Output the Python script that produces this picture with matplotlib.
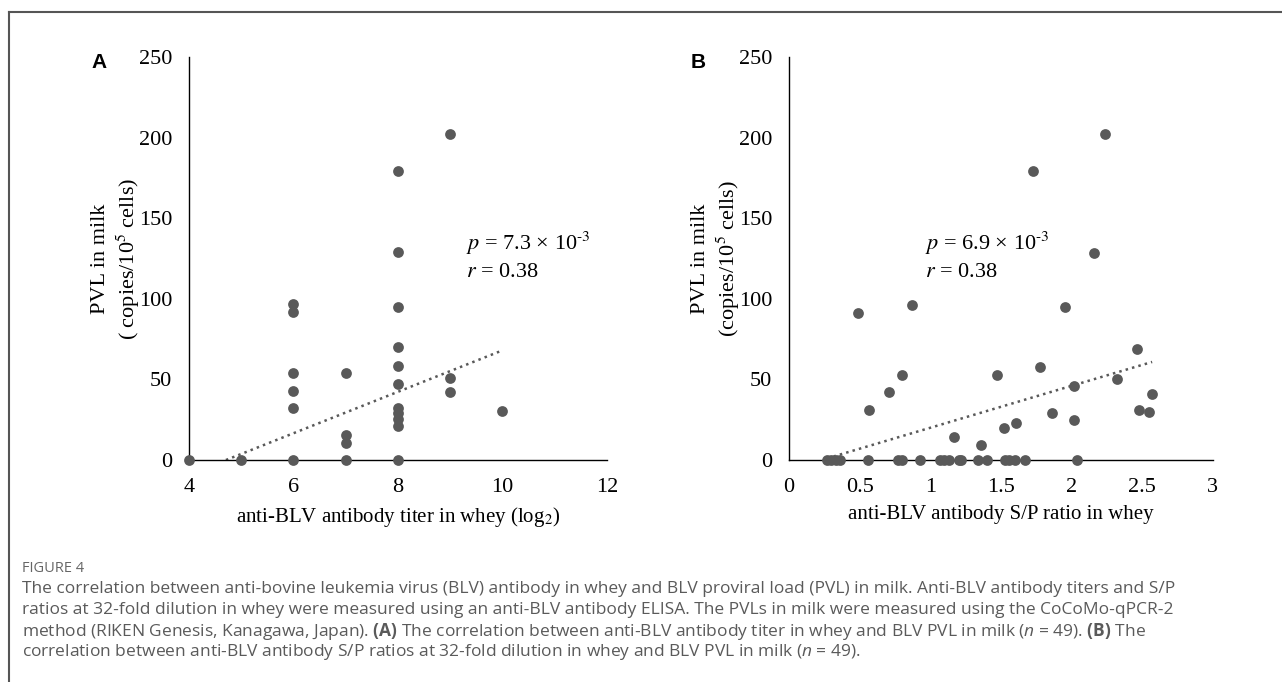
import matplotlib
matplotlib.use("Agg")
import matplotlib.pyplot as plt
from matplotlib.lines import Line2D
import numpy as np

plt.rcParams['font.family'] = ['Liberation Serif', 'DejaVu Serif']
plt.rcParams['mathtext.fontset'] = 'custom'
plt.rcParams['mathtext.rm'] = 'Open Sans'
plt.rcParams['mathtext.it'] = 'Open Sans:italic'
plt.rcParams['mathtext.bf'] = 'Open Sans:bold'

# Panel A: антитела (log2 титр) vs PVL
titer_a = [4, 5, 6, 6, 6, 6, 6, 6, 7, 7, 7, 7, 8, 8, 8, 8, 8, 8, 8, 8, 8, 8, 8, 9, 9, 9, 10]
pvl_a = [0, 0, 97, 92, 54, 43, 32, 0, 54, 15.5, 10.5, 0, 179, 129, 95, 70, 58, 47, 32, 29,
         25.5, 21, 0, 202, 51, 42, 30.5]
trend_a = (12.85, -60.5)  # наклон, сдвиг

# Panel B: S/P ratio vs PVL
sp_b = [0.27, 0.30, 0.33, 0.36, 0.56, 0.77, 0.80, 0.93, 1.07, 1.10, 1.13, 1.20, 1.22, 1.34,
        1.40, 1.53, 1.56, 1.60, 1.67, 2.04,
        0.49, 0.87, 1.73, 2.24, 2.16, 1.95, 0.57, 0.71, 0.80, 1.47, 1.78, 2.02, 2.32, 2.46,
        2.57, 2.48, 2.55, 1.86, 2.02, 1.61, 1.52, 1.17, 1.36]
pvl_b = [0] * 20 + [91, 96, 179, 202, 128.5, 94.7, 31, 42, 53, 53, 57.5, 46, 50, 69,
                    41, 31, 29.5, 29.3, 24.8, 23, 19.6, 14.3, 9.3]
trend_b = (26.0, -6.0)

dot_color = "#595959"

fig = plt.figure(figsize=(12.82, 6.82), dpi=100)

panels = [
    ([0.1474, 0.3255, 0.326, 0.591], titer_a, pvl_a, trend_a, (4, 12), [4, 6, 8, 10, 12],
     ["4", "6", "8", "10", "12"],
     "anti-BLV antibody titer in whey (log$_2$)", "PVL in milk\n( copies/10$^5$ cells)",
     "A", r"$p$ = 7.3 × 10$^{\text{-}3}$" + "\n" + r"$r$ = 0.38", (9.3, 110.5)),
    ([0.6154, 0.3255, 0.3307, 0.591], sp_b, pvl_b, trend_b, (0, 3), [0, 0.5, 1, 1.5, 2, 2.5, 3],
     ["0", "0.5", "1", "1.5", "2", "2.5", "3"],
     "anti-BLV antibody S/P ratio in whey", "PVL in milk\n(copies/10$^5$ cells)",
     "B", r"$p$ = 6.9 × 10$^{\text{-}3}$" + "\n" + r"$r$ = 0.38", (0.96, 110.5)),
]

for rect, xs, ys, (k, b), xlim, xticks, xticklabels, xlabel, ylabel, letter, note, note_xy in panels:
    ax = fig.add_axes(rect)
    ax.scatter(xs, ys, s=60, color=dot_color, zorder=3, clip_on=False, linewidths=0)
    xx = np.array([min(xs), max(xs)])
    ax.plot(xx, k * xx + b, linestyle=":", color=dot_color, linewidth=1.8, zorder=2)
    ax.set_xlim(*xlim)
    ax.set_ylim(0, 250)
    ax.set_xticks(xticks)
    ax.set_xticklabels(xticklabels)
    ax.set_yticks([0, 50, 100, 150, 200, 250])
    ax.tick_params(length=0, labelsize=16)
    ax.tick_params(axis="x", pad=13)
    ax.tick_params(axis="y", pad=12)
    for s in ["top", "right"]:
        ax.spines[s].set_visible(False)
    for s in ["left", "bottom"]:
        ax.spines[s].set_linewidth(1.0)
        ax.spines[s].set_color("black")
    ax.set_xlabel(xlabel, fontsize=15, labelpad=6, math_fontfamily="stix")
    ax.set_ylabel(ylabel, fontsize=16, labelpad=-2, linespacing=1.2, math_fontfamily="stix")
    ax.text(note_xy[0], note_xy[1], note, fontsize=16, math_fontfamily="stix",
            linespacing=1.4, va="bottom", ha="left")
    ax.text(-0.215, 0.985, letter, transform=ax.transAxes, fontsize=15, fontweight="bold",
            family="Liberation Sans", ha="center", va="center")

# рамка
fig.add_artist(Line2D([9 / 1282, 1], [1 - 12 / 682, 1 - 12 / 682], color="#555555", linewidth=1.5))
fig.add_artist(Line2D([9 / 1282, 9 / 1282], [0, 1 - 12 / 682], color="#555555", linewidth=1.5))

caption_lines = [
    "The correlation between anti-bovine leukemia virus (BLV) antibody in whey and BLV proviral load (PVL) in milk. Anti-BLV antibody titers and S/P",
    "ratios at 32-fold dilution in whey were measured using an anti-BLV antibody ELISA. The PVLs in milk were measured using the CoCoMo-qPCR-2",
    r"method (RIKEN Genesis, Kanagawa, Japan). $\mathbf{(A)}$ The correlation between anti-BLV antibody titer in whey and BLV PVL in milk ($n$ = 49). $\mathbf{(B)}$ The",
    r"correlation between anti-BLV antibody S/P ratios at 32-fold dilution in whey and BLV PVL in milk ($n$ = 49).",
]
fig.text(22 / 1282, 1 - 568 / 682, "FIGURE 4", family="Open Sans", fontsize=10.5,
         color="#666666", va="center")
for i, line in enumerate(caption_lines):
    fig.text(22 / 1282, 1 - (589 + 21 * i) / 682, line, family="Open Sans", fontsize=12.5,
             color="#5a5a5a", va="center")

fig.savefig("out.png", dpi=100)
